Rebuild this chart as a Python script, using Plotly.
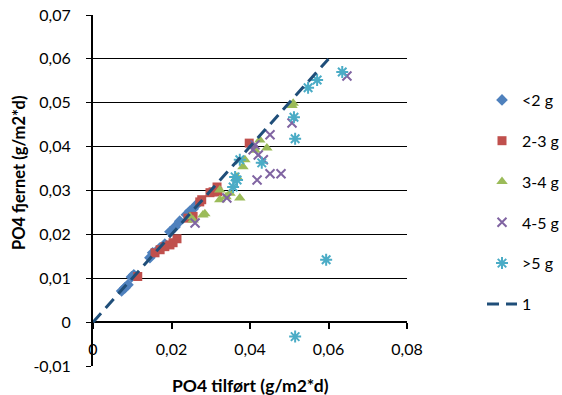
import plotly.graph_objects as go

# ---- data ----
lt2_x = [0.0073, 0.0081, 0.0089, 0.0098, 0.0104, 0.0145, 0.0152, 0.0170, 0.0183, 0.0196, 0.0209, 0.0221, 0.0238, 0.0247, 0.0255, 0.0262]
lt2_y = [0.0071, 0.0078, 0.0085, 0.0103, 0.0108, 0.0147, 0.0158, 0.0169, 0.0178, 0.0206, 0.0217, 0.0230, 0.0245, 0.0253, 0.0258, 0.0266]

g23_x = [0.0114, 0.0158, 0.0171, 0.0183, 0.0196, 0.0204, 0.0214, 0.0242, 0.0255, 0.0272, 0.0277, 0.0298, 0.0306, 0.0318, 0.0316, 0.0398]
g23_y = [0.0104, 0.0158, 0.0165, 0.0172, 0.0176, 0.0181, 0.0190, 0.0237, 0.0241, 0.0274, 0.0279, 0.0295, 0.0297, 0.0297, 0.0308, 0.0408]

g34_x = [0.0247, 0.0255, 0.0280, 0.0285, 0.0323, 0.0323, 0.0339, 0.0349, 0.0367, 0.0374, 0.0382, 0.0387, 0.0413, 0.0425, 0.0443, 0.0507, 0.0510]
g34_y = [0.0240, 0.0233, 0.0244, 0.0247, 0.0279, 0.0301, 0.0286, 0.0294, 0.0331, 0.0283, 0.0354, 0.0370, 0.0392, 0.0415, 0.0397, 0.0494, 0.0499]

g45_x = [0.0260, 0.0341, 0.0408, 0.0413, 0.0418, 0.0421, 0.0434, 0.0451, 0.0451, 0.0479, 0.0507, 0.0647]
g45_y = [0.0226, 0.0283, 0.0393, 0.0404, 0.0324, 0.0381, 0.0370, 0.0338, 0.0427, 0.0338, 0.0454, 0.0561]

gt5_x = [0.0357, 0.0362, 0.0367, 0.0374, 0.0430, 0.0512, 0.0515, 0.0515, 0.0548, 0.0571, 0.0594, 0.0635]
gt5_y = [0.0308, 0.0331, 0.0324, 0.0370, 0.0363, 0.0467, 0.0418, -0.0033, 0.0534, 0.0552, 0.0142, 0.0570]

line1_x = [0.0, 0.06]
line1_y = [0.0, 0.06]

series_names = ["<2 g", "2-3 g", "3-4 g", "4-5 g", ">5 g", "1"]

x_tickvals = [0, 0.02, 0.04, 0.06, 0.08]
x_ticktext = ["0", "0,02", "0,04", "0,06", "0,08"]
y_tickvals = [-0.01, 0, 0.01, 0.02, 0.03, 0.04, 0.05, 0.06, 0.07]
y_ticktext = ["-0,01", "0", "0,01", "0,02", "0,03", "0,04", "0,05", "0,06", "0,07"]

FONT = "Lato"

fig = go.Figure()
styles = [
    (lt2_x, lt2_y, dict(symbol="diamond", color="#4F81BD", size=9)),
    (g23_x, g23_y, dict(symbol="square", color="#C0504D", size=9)),
    (g34_x, g34_y, dict(symbol="triangle-up", color="#9BBB59", size=10)),
    (g45_x, g45_y, dict(symbol="x-thin-open", color="#8064A2", size=9, line=dict(color="#8064A2", width=2))),
    (gt5_x, gt5_y, dict(symbol="asterisk-open", color="#4BACC6", size=10, line=dict(color="#4BACC6", width=2))),
]
for i, (xs, ys, mk) in enumerate(styles):
    fig.add_trace(go.Scatter(x=xs, y=ys, mode="markers", name=series_names[i],
                             marker=mk, legendgroup=str(i)))

fig.add_trace(go.Scatter(x=line1_x, y=line1_y, mode="lines", name=series_names[5],
                         line=dict(color="#1F4E79", width=3, dash="12px,7px"), legendgroup="5"))

fig.update_layout(
    width=562, height=395,
    margin=dict(l=93, r=155, t=15, b=29, autoexpand=False),
    paper_bgcolor="white", plot_bgcolor="white",
    font=dict(family=FONT, size=16, color="black"),
    showlegend=True,
    legend=dict(x=(482 - 93) / 314, xanchor="left", y=(366 - 83) / 351, yanchor="top",
                tracegroupgap=17, font=dict(size=16), bgcolor="rgba(0,0,0,0)"),
    xaxis=dict(range=[0, 0.08], tickvals=x_tickvals, ticktext=x_ticktext,
               anchor="free", position=0.125, showline=False, showgrid=False,
               zeroline=False, ticks="outside", ticklen=6, tickwidth=1.5,
               tickcolor="black", ticklabelstandoff=7),
    yaxis=dict(range=[-0.01, 0.07], tickvals=y_tickvals, ticktext=y_ticktext,
               showline=True, linecolor="black", linewidth=2,
               showgrid=True, gridcolor="black", gridwidth=1.3,
               zeroline=True, zerolinecolor="black", zerolinewidth=2,
               ticks="outside", ticklen=5, tickcolor="black", ticklabelstandoff=12),
    annotations=[
        dict(text="<b>PO4 tilført (g/m2*d)</b>", xref="paper", yref="paper",
             x=0.5, y=(366 - 385) / 351, xanchor="center", yanchor="middle",
             showarrow=False, font=dict(size=17.5)),
        dict(text="<b>PO4 fjernet (g/m2*d)</b>", xref="paper", yref="paper",
             x=(19 - 93) / 314, y=(366 - 173) / 351, xanchor="center", yanchor="middle",
             textangle=-90, showarrow=False, font=dict(size=16.5)),
    ],
)

fig.write_html("out.html")
